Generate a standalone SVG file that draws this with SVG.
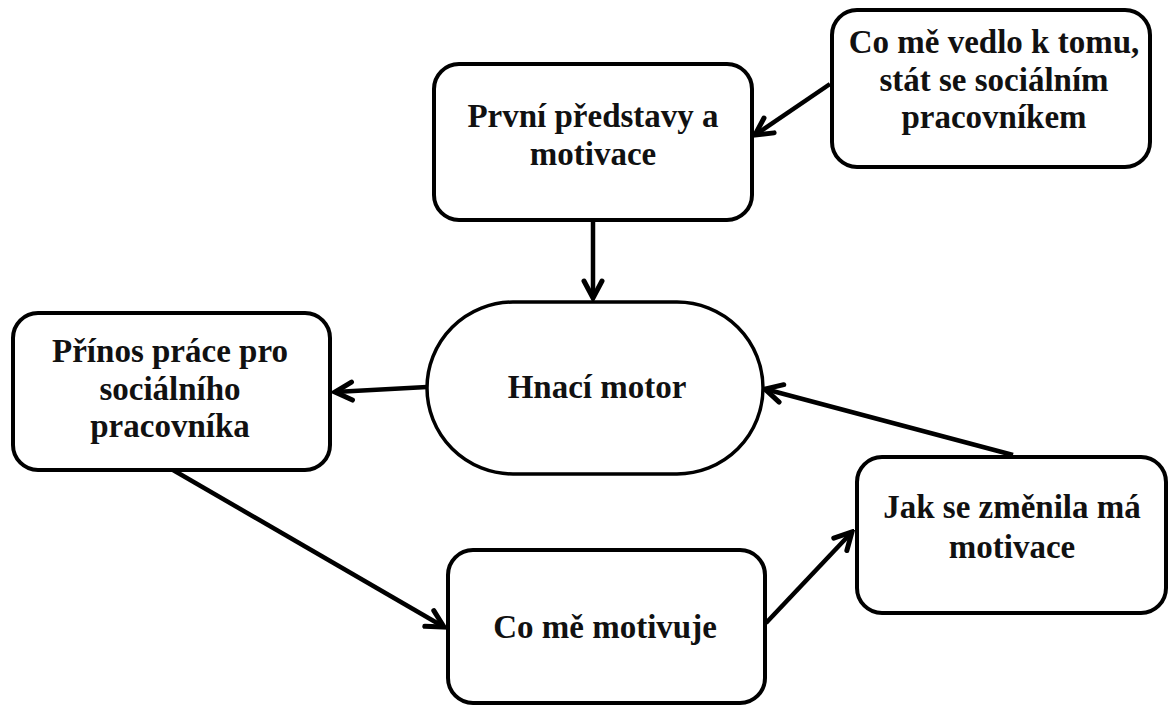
<svg xmlns="http://www.w3.org/2000/svg" width="1172" height="706" viewBox="0 0 1172 706">
<defs>
<style>
.box{fill:#fff;stroke:#000;stroke-width:4}
.oval{fill:#fff;stroke:#000;stroke-width:3.5}
.t{font-family:"Liberation Serif","Times New Roman",serif;font-weight:bold;font-size:33px;fill:#111;text-anchor:middle}
.c{fill:none;stroke:#000;stroke-width:4.5}
</style>
<marker id="arr" viewBox="0 0 24 24" refX="21" refY="12" markerWidth="24" markerHeight="24" markerUnits="userSpaceOnUse" orient="auto">
<path d="M4,3 L21,12 L4,21" fill="none" stroke="#000" stroke-width="5" stroke-linecap="round" stroke-linejoin="miter"/>
</marker>
</defs>
<rect width="1172" height="706" fill="#fff"/>
<g id="connectors">
<line class="c" x1="830" y1="84" x2="755" y2="135" marker-end="url(#arr)"/>
<line class="c" x1="593" y1="220" x2="593" y2="298" marker-end="url(#arr)"/>
<line class="c" x1="427" y1="387" x2="335" y2="392" marker-end="url(#arr)"/>
<line class="c" x1="173" y1="470" x2="444" y2="627" marker-end="url(#arr)"/>
<line class="c" x1="766" y1="623" x2="852" y2="532" marker-end="url(#arr)"/>
<line class="c" x1="1013" y1="455" x2="765" y2="389" marker-end="url(#arr)"/>
</g>
<g id="n-prvni">
<rect class="box" x="434" y="64" width="318" height="156" rx="25"/>
<text class="t" x="593" y="127">První představy a</text>
<text class="t" x="593" y="165">motivace</text>
</g>
<g id="n-covedlo">
<rect class="box" x="832" y="10" width="318" height="157" rx="25"/>
<text class="t" x="994" y="53">Co mě vedlo k tomu,</text>
<text class="t" x="994" y="91">stát se sociálním</text>
<text class="t" x="994" y="128">pracovníkem</text>
</g>
<g id="n-hnaci">
<rect class="oval" x="427" y="302" width="336" height="172" rx="86"/>
<text class="t" x="597" y="398">Hnací motor</text>
</g>
<g id="n-prinos">
<rect class="box" x="13" y="313" width="317" height="157" rx="25"/>
<text class="t" x="170" y="362">Přínos práce pro</text>
<text class="t" x="170" y="400">sociálního</text>
<text class="t" x="170" y="437">pracovníka</text>
</g>
<g id="n-comotivuje">
<rect class="box" x="448" y="550" width="317" height="153" rx="25"/>
<text class="t" x="605" y="638">Co mě motivuje</text>
</g>
<g id="n-jak">
<rect class="box" x="857" y="457" width="309" height="156" rx="25"/>
<text class="t" x="1012" y="518">Jak se změnila má</text>
<text class="t" x="1012" y="558">motivace</text>
</g>
</svg>
